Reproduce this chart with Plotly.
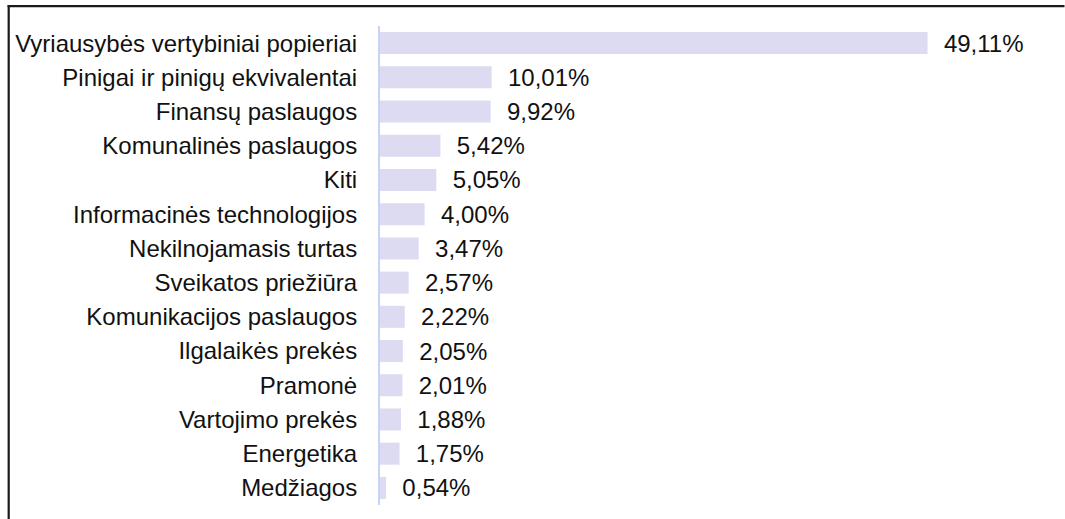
import plotly.graph_objects as go

categories = [
    "Vyriausybės vertybiniai popieriai",
    "Pinigai ir pinigų ekvivalentai",
    "Finansų paslaugos",
    "Komunalinės paslaugos",
    "Kiti",
    "Informacinės technologijos",
    "Nekilnojamasis turtas",
    "Sveikatos priežiūra",
    "Komunikacijos paslaugos",
    "Ilgalaikės prekės",
    "Pramonė",
    "Vartojimo prekės",
    "Energetika",
    "Medžiagos",
]
values = [49.11, 10.01, 9.92, 5.42, 5.05, 4.00, 3.47, 2.57, 2.22, 2.05, 2.01, 1.88, 1.75, 0.54]
labels = ["\u00a0\u00a0" + f"{v:.2f}".replace(".", ",") + "%" for v in values]

W, H = 1065, 519
ML, MR, MT, MB = 380, 20, 26, 14
pw = W - ML - MR
ph = H - MT - MB
px_per_unit = 11.15
xmax = pw / px_per_unit
FONT = "Liberation Sans, Arial, sans-serif"

fig = go.Figure(go.Bar(
    x=values, y=categories, orientation="h",
    marker=dict(color="#dcdbf2", line=dict(width=0)),
    text=labels, textposition="outside", cliponaxis=False,
    constraintext="none",
    textfont=dict(family=FONT, size=24, color="#111111"),
    hoverinfo="skip",
))

fig.update_layout(
    width=W, height=H,
    margin=dict(l=ML, r=MR, t=MT, b=MB, pad=0),
    paper_bgcolor="white", plot_bgcolor="white",
    bargap=0.357,
    showlegend=False,
    font=dict(family=FONT, size=24, color="#111111"),
    xaxis=dict(range=[0, xmax], visible=False, fixedrange=True),
    yaxis=dict(
        autorange="reversed", showline=True, linecolor="#c6d4f7", linewidth=2,
        ticks="", ticklabelstandoff=16, showgrid=False, zeroline=False,
        tickfont=dict(family=FONT, size=24, color="#111111"),
    ),
)

def px_to_paper_x(px):
    return (px - ML) / pw

def px_to_paper_y(py):
    return (H - MB - py) / ph

# left frame edge
fig.add_shape(type="rect", xref="paper", yref="paper",
              x0=px_to_paper_x(7.6), x1=px_to_paper_x(9.8),
              y0=px_to_paper_y(525), y1=px_to_paper_y(5.1),
              fillcolor="#1a1a1a", line=dict(width=0))
# top frame edge
fig.add_shape(type="rect", xref="paper", yref="paper",
              x0=px_to_paper_x(7.6), x1=px_to_paper_x(1064.5),
              y0=px_to_paper_y(7.3), y1=px_to_paper_y(5.1),
              fillcolor="#1a1a1a", line=dict(width=0))

fig.write_html("out.html", config={"displayModeBar": False})
